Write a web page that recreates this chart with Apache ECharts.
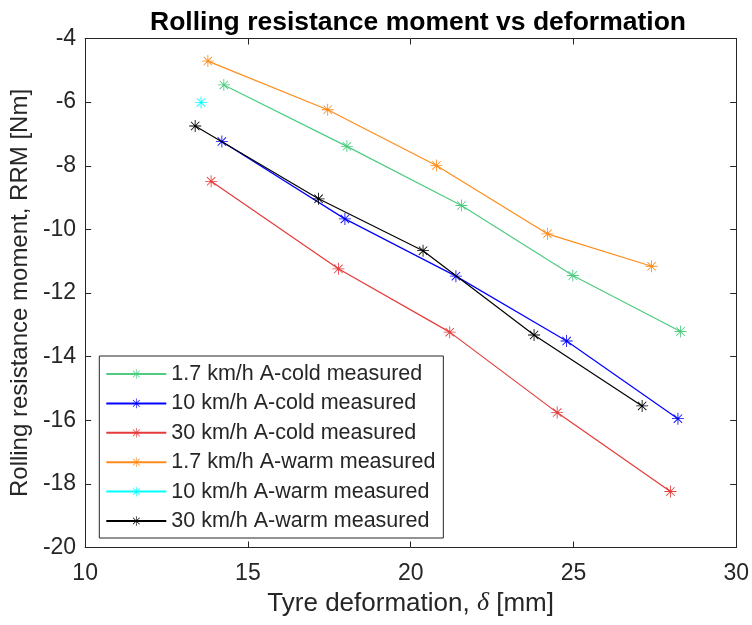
<!DOCTYPE html>
<html>
<head>
<meta charset="utf-8">
<script src="https://cdn.jsdelivr.net/npm/echarts@6/dist/echarts.min.js"></script>
<style>html,body{margin:0;padding:0;background:#fff}#c{width:752px;height:625px}</style>
</head>
<body>
<div id="c"></div>
<script>
// ---- Data ----
const seriesNames = [
  '1.7 km/h A-cold measured',
  '10 km/h A-cold measured',
  '30 km/h A-cold measured',
  '1.7 km/h A-warm measured',
  '10 km/h A-warm measured',
  '30 km/h A-warm measured'
];
const coldSlowX = [14.26, 18.04, 21.56, 24.98, 28.29];
const coldSlowY = [-5.46, -7.39, -9.25, -11.45, -13.21];
const coldMidX  = [14.20, 17.98, 21.39, 24.79, 28.21];
const coldMidY  = [-7.24, -9.67, -11.47, -13.51, -15.95];
const coldFastX = [13.87, 17.78, 21.20, 24.50, 27.98];
const coldFastY = [-8.49, -11.24, -13.23, -15.76, -18.24];
const warmSlowX = [13.77, 17.45, 20.79, 24.20, 27.40];
const warmSlowY = [-4.71, -6.24, -7.99, -10.14, -11.16];
const warmMidX  = [13.56];
const warmMidY  = [-6.01];
const warmFastX = [13.38, 17.17, 20.38, 23.79, 27.11];
const warmFastY = [-6.75, -9.04, -10.67, -13.32, -15.55];
const xTicks = [10, 15, 20, 25, 30];
const yTicks = [-20, -18, -16, -14, -12, -10, -8, -6, -4];

const colors = ['#4dcc80', '#0000ff', '#e63a3a', '#ff8c1a', '#00ffff', '#000000'];
const xs = [coldSlowX, coldMidX, coldFastX, warmSlowX, warmMidX, warmFastX];
const ys = [coldSlowY, coldMidY, coldFastY, warmSlowY, warmMidY, warmFastY];

const star = 'path://M-0.7,-10L0.7,-10L0.7,10L-0.7,10Z' +
  'M-10,-0.7L10,-0.7L10,0.7L-10,0.7Z' +
  'M-6.5,-7.5L7.5,6.5L6.5,7.5L-7.5,-6.5Z' +
  'M6.5,-7.5L7.5,-6.5L-6.5,7.5L-7.5,6.5Z';

const FONT = '"Liberation Sans", Arial, Helvetica, sans-serif';
const AX = '#262626';

const series = seriesNames.map((n, i) => ({
  name: n,
  type: 'line',
  data: xs[i].map((x, k) => [x, ys[i][k]]),
  symbol: star,
  symbolSize: 12,
  showSymbol: true,
  lineStyle: { color: colors[i], width: 1.2 },
  itemStyle: { color: colors[i] },
  emphasis: { disabled: true },
  animation: false,
  z: 2 + i
}));

const chart = echarts.init(document.getElementById('c'), null, { renderer: 'canvas' });
chart.setOption({
  backgroundColor: '#fff',
  animation: false,
  title: {
    text: 'Rolling resistance moment vs deformation',
    left: 413, top: 4, textAlign: 'center',
    textStyle: { fontFamily: FONT, fontWeight: 'bold', fontSize: 26.5, color: '#000' }
  },
  grid: { left: 84.5, right: 14.7, top: 38.5, bottom: 77.5, containLabel: false },
  legend: {
    orient: 'vertical', left: 99.3, top: 356,
    data: seriesNames,
    itemWidth: 60, itemHeight: 12, itemGap: 7.4,
    padding: [7, 8, 6, 6],
    borderColor: AX, borderWidth: 1, backgroundColor: '#fff',
    textStyle: { fontFamily: FONT, fontSize: 21.5, color: AX, lineHeight: 22 },
    selectedMode: false
  },
  xAxis: [{
    type: 'value', min: xTicks[0], max: xTicks[xTicks.length - 1], interval: 5,
    position: 'bottom',
    name: 'Tyre deformation, {i|δ} [mm]', nameLocation: 'middle', nameGap: 43,
    nameTextStyle: { fontFamily: FONT, fontSize: 26, color: AX,
      rich: { i: { fontFamily: '"Liberation Serif", serif', fontStyle: 'italic', fontSize: 26, color: AX } } },
    axisLine: { show: true, lineStyle: { color: AX, width: 1 } },
    axisTick: { show: true, inside: true, length: 6, lineStyle: { color: AX } },
    axisLabel: { fontFamily: FONT, fontSize: 23, color: AX, margin: 15 },
    splitLine: { show: false }
  }, {
    type: 'value', min: xTicks[0], max: xTicks[xTicks.length - 1], interval: 5,
    position: 'top',
    axisLine: { show: true, lineStyle: { color: AX, width: 1 } },
    axisTick: { show: true, inside: true, length: 6, lineStyle: { color: AX } },
    axisLabel: { show: false },
    splitLine: { show: false }
  }],
  yAxis: [{
    type: 'value', min: yTicks[0], max: yTicks[yTicks.length - 1], interval: 2,
    position: 'left',
    name: 'Rolling resistance moment, RRM [Nm]', nameLocation: 'middle', nameGap: 51,
    nameTextStyle: { fontFamily: FONT, fontSize: 24, color: AX },
    axisLine: { show: true, lineStyle: { color: AX, width: 1 } },
    axisTick: { show: true, inside: true, length: 6, lineStyle: { color: AX } },
    axisLabel: { fontFamily: FONT, fontSize: 23, color: AX, margin: 9 },
    splitLine: { show: false }
  }, {
    type: 'value', min: yTicks[0], max: yTicks[yTicks.length - 1], interval: 2,
    position: 'right',
    axisLine: { show: true, lineStyle: { color: AX, width: 1 } },
    axisTick: { show: true, inside: true, length: 6, lineStyle: { color: AX } },
    axisLabel: { show: false },
    splitLine: { show: false }
  }],
  series: series
});
</script>
</body>
</html>
